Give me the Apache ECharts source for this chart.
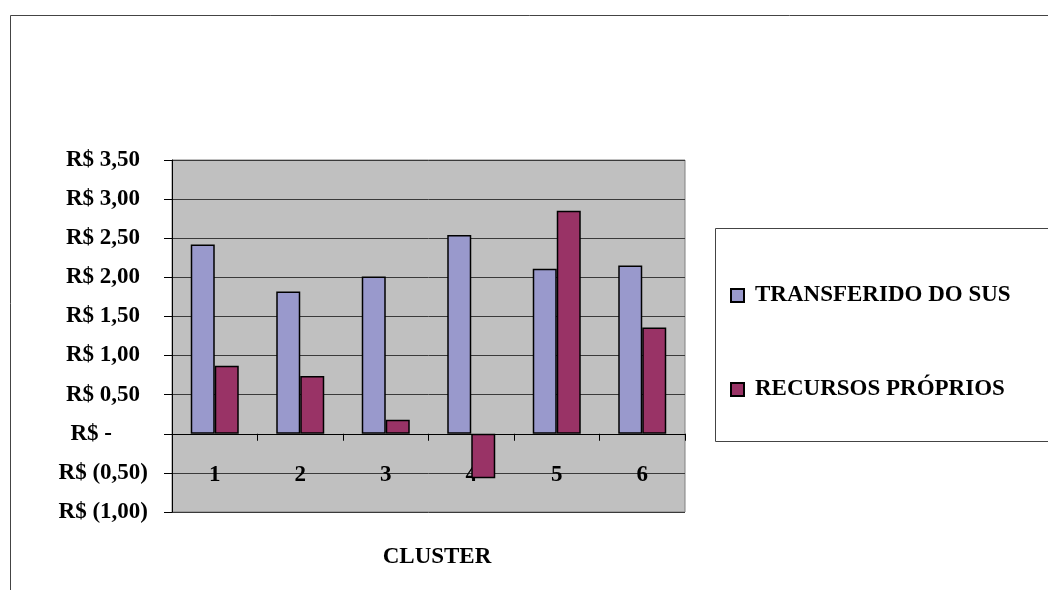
<!DOCTYPE html>
<html>
<head>
<meta charset="utf-8">
<script src="https://cdn.jsdelivr.net/npm/echarts@6/dist/echarts.min.js"></script>
<style>
  html, body { margin: 0; padding: 0; background: #fff; }
  #chart { width: 1048px; height: 590px; }
</style>
</head>
<body>
<div id="chart"></div>
<script>
// Clusters and the per-cluster amounts (R$)
const clusters = ['1', '2', '3', '4', '5', '6'];
const transferidoSus = [2.42, 1.82, 2.01, 2.54, 2.11, 2.15];
const recursosProprios = [0.87, 0.74, 0.18, -0.57, 2.85, 1.36];
const seriesNames = ['TRANSFERIDO DO SUS', 'RECURSOS PRÓPRIOS'];
const axisTitle = 'CLUSTER';

const FONT = '"Liberation Serif", "Times New Roman", serif';
const FS = 23;

// Accounting-style currency label: R$ 1,50 / R$ (0,50) / R$ -
function brl(v) {
  const r = Math.round(v * 100) / 100;
  if (Math.abs(r) < 1e-9) return '{z|R$ -}';
  const s = Math.abs(r).toFixed(2).replace('.', ',');
  return r < 0 ? '{n|R$ (' + s + ')}' : '{p|R$ ' + s + '}';
}

const labelFont = { fontFamily: FONT, fontWeight: 'bold', fontSize: FS, color: '#000' };

const chart = echarts.init(document.getElementById('chart'), null, { renderer: 'canvas' });
chart.setOption({
  backgroundColor: '#fff',
  animation: false,
  graphic: [
    { type: 'rect', shape: { x: 10.5, y: 15.5, width: 1200, height: 700 },
      style: { fill: 'none', stroke: '#444', lineWidth: 1 }, silent: true, z: -1 },
    { type: 'rect', shape: { x: 715.5, y: 228.5, width: 500, height: 213 },
      style: { fill: '#fff', stroke: '#444', lineWidth: 1 }, silent: true, z: 0 },
    { type: 'text', x: 437, y: 557,
      style: { text: axisTitle, fill: '#000', font: 'bold ' + FS + 'px ' + FONT,
               textAlign: 'center', textVerticalAlign: 'middle' }, z: 5 }
  ],
  grid: {
    left: 172, top: 160, width: 513, height: 352,
    show: true, backgroundColor: '#C0C0C0', borderColor: '#808080', borderWidth: 1
  },
  legend: {
    orient: 'vertical', left: 725, top: 279, itemGap: 71,
    itemWidth: 13, itemHeight: 13, icon: 'rect',
    textStyle: { fontFamily: FONT, fontWeight: 'bold', fontSize: FS, color: '#000',
                 padding: [0, 0, 0, 6] },
    z: 10
  },
  xAxis: {
    type: 'category', data: clusters,
    axisLine: { onZero: true, lineStyle: { color: '#000', width: 1 } },
    axisTick: { show: true, length: 7, alignWithLabel: false, lineStyle: { color: '#000' } },
    axisLabel: Object.assign({ margin: -48 }, labelFont),
    splitLine: { show: false }
  },
  yAxis: {
    type: 'value', min: -1, max: 3.5, interval: 0.5,
    axisLine: { show: true, lineStyle: { color: '#000', width: 1 } },
    axisTick: { show: true, length: 8, lineStyle: { color: '#000' } },
    axisLabel: {
      margin: 24,
      formatter: brl,
      rich: {
        p: Object.assign({ padding: [0, 8, 0, 0] }, labelFont),
        n: Object.assign({}, labelFont),
        z: Object.assign({ padding: [0, 36, 0, 0] }, labelFont)
      }
    },
    splitLine: { show: true, lineStyle: { color: '#3a3a3a', width: 1 } }
  },
  series: [
    {
      name: seriesNames[0], type: 'bar', data: transferidoSus,
      barWidth: 24, barGap: '0%',
      itemStyle: { color: '#9999CC', borderColor: '#000', borderWidth: 1.5 }
    },
    {
      name: seriesNames[1], type: 'bar', data: recursosProprios,
      barWidth: 24, barGap: '0%',
      itemStyle: { color: '#993366', borderColor: '#000', borderWidth: 1.5 }
    }
  ]
});
</script>
</body>
</html>
